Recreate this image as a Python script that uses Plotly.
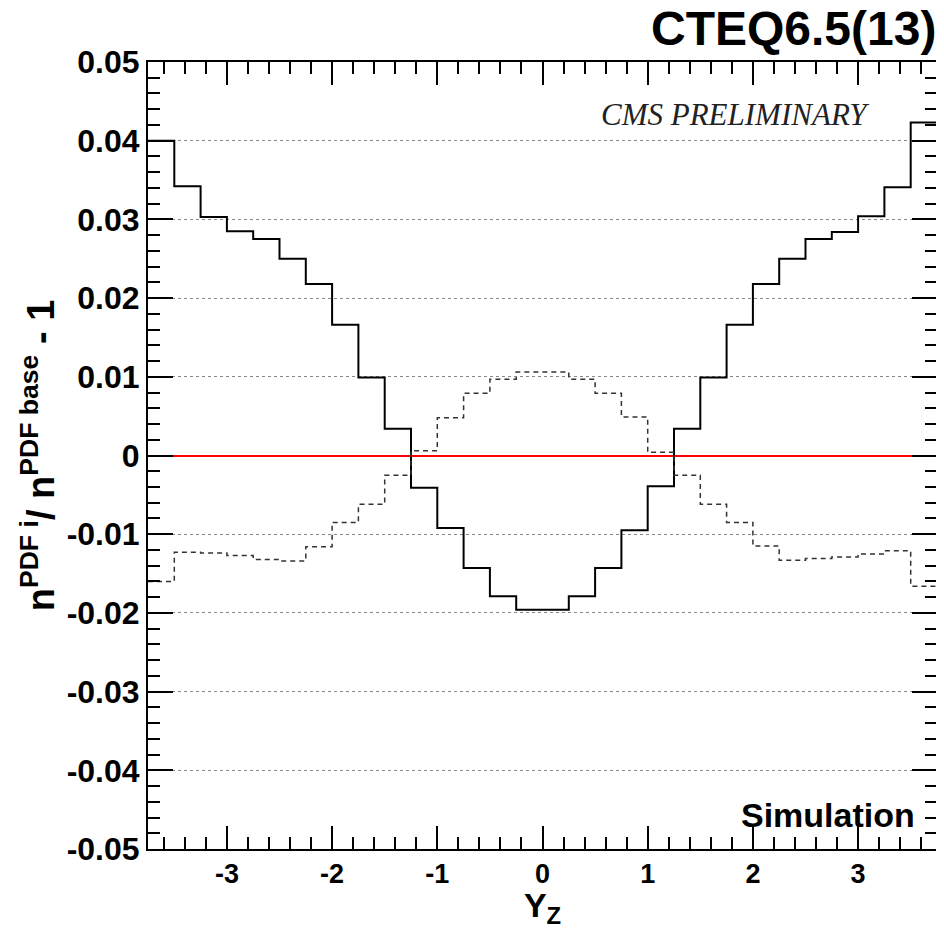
import plotly.graph_objects as go

# ---- data ----
bin_edges = [-3.75, -3.5, -3.25, -3.0, -2.75, -2.5, -2.25, -2.0, -1.75, -1.5,
             -1.25, -1.0, -0.75, -0.5, -0.25, 0.0, 0.25, 0.5, 0.75, 1.0,
             1.25, 1.5, 1.75, 2.0, 2.25, 2.5, 2.75, 3.0, 3.25, 3.5, 3.75]

solid_vals = [0.0400, 0.0342, 0.0303, 0.0285, 0.0275, 0.0250, 0.0218, 0.0166, 0.0099, 0.0034,
              -0.0041, -0.0092, -0.0143, -0.0179, -0.0196, -0.0196, -0.0179, -0.0143, -0.0095, -0.0039,
              0.0034, 0.0099, 0.0166, 0.0218, 0.0250, 0.0275, 0.0284, 0.0304, 0.0341, 0.0423]

dashed_vals = [-0.0160, -0.0123, -0.0124, -0.0127, -0.0132, -0.0134, -0.0116, -0.0085, -0.0062, -0.0025,
               0.0006, 0.0048, 0.0079, 0.0097, 0.0106, 0.0106, 0.0097, 0.0079, 0.0049, 0.0004,
               -0.0025, -0.0062, -0.0085, -0.0115, -0.0133, -0.0131, -0.0129, -0.0125, -0.0121, -0.0166]

xtick_vals = [-3, -2, -1, 0, 1, 2, 3]
xtick_text = ["-3", "-2", "-1", "0", "1", "2", "3"]
ytick_vals = [0.05, 0.04, 0.03, 0.02, 0.01, 0.0, -0.01, -0.02, -0.03, -0.04, -0.05]
ytick_text = ["0.05", "0.04", "0.03", "0.02", "0.01", "0", "-0.01", "-0.02", "-0.03", "-0.04", "-0.05"]

FONT = "Liberation Sans"

fig = go.Figure()
fig.add_trace(go.Scatter(x=bin_edges, y=solid_vals + [solid_vals[-1]], mode="lines",
                         line=dict(shape="hv", color="black", width=2), showlegend=False))
fig.add_trace(go.Scatter(x=bin_edges, y=dashed_vals + [dashed_vals[-1]], mode="lines",
                         line=dict(shape="hv", color="#333333", width=1.5, dash="5px,4px"),
                         showlegend=False))

axis_common = dict(showline=True, linecolor="black", linewidth=2, mirror="allticks",
                   ticks="inside", tickcolor="black", tickwidth=1.5, automargin=False)

fig.update_xaxes(range=[-3.75, 3.75], tickvals=xtick_vals, ticktext=xtick_text,
                 ticklen=23, showgrid=False, zeroline=False,
                 tickfont=dict(family=FONT, size=27, color="black", weight="bold"),
                 minor=dict(dtick=0.2, tick0=0, ticklen=12, ticks="inside", tickcolor="black",
                            tickwidth=1.5, showgrid=False),
                 title=dict(text="Y<sub>Z</sub>", font=dict(family=FONT, size=34, color="black",
                                                            weight="bold"), standoff=2),
                 **axis_common)

fig.update_yaxes(range=[-0.05, 0.05], tickvals=ytick_vals, ticktext=ytick_text,
                 ticklen=25, showgrid=True, gridcolor="#888888", gridwidth=1, griddash="dot",
                 zeroline=True, zerolinecolor="red", zerolinewidth=2,
                 tickfont=dict(family=FONT, size=32, color="black", weight="bold"),
                 minor=dict(dtick=0.002, tick0=0, ticklen=12, ticks="inside", tickcolor="black",
                            tickwidth=1.5, showgrid=False),
                 title=dict(text="n<sup>PDF i</sup>/ n<sup>PDF base</sup> - 1",
                            font=dict(family=FONT, size=38, color="black", weight="bold"),
                            standoff=0),
                 **axis_common)

fig.add_annotation(text="CTEQ6.5(13)", xref="paper", yref="paper", x=1.0, y=1.043,
                   xanchor="right", yanchor="middle", showarrow=False, borderpad=0,
                   font=dict(family=FONT, size=48, color="black", weight="bold"))
fig.add_annotation(text="<i>CMS PRELIMINARY</i>", xref="paper", yref="paper", x=0.744, y=0.9327,
                   xanchor="center", yanchor="middle", showarrow=False,
                   font=dict(family="Liberation Serif", size=31, color="#222222"))
fig.add_annotation(text="Simulation", xref="paper", yref="paper", x=0.975, y=0.0432,
                   xanchor="right", yanchor="middle", showarrow=False,
                   font=dict(family=FONT, size=34, color="black", weight="bold"))

# page body has an 8px default margin; size the figure so the plot box lands where the reference has it
fig.update_layout(width=936, height=921, margin=dict(l=140, r=7, t=54, b=80),
                  plot_bgcolor="white", paper_bgcolor="white")

fig.write_html("out.html")
